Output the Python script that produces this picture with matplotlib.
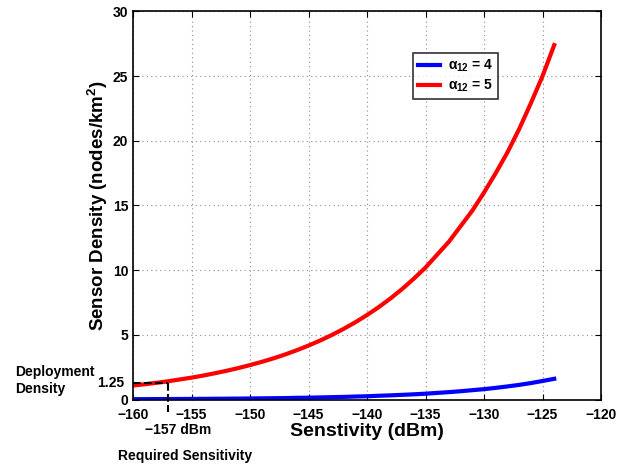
import numpy as np
import matplotlib.pyplot as plt

plt.rcParams['font.family'] = ['Liberation Sans', 'DejaVu Sans']
plt.rcParams['font.weight'] = 'bold'
plt.rcParams['mathtext.fontset'] = 'custom'
plt.rcParams['mathtext.rm'] = 'Liberation Sans:bold'
plt.rcParams['mathtext.it'] = 'Liberation Sans'
plt.rcParams['mathtext.bf'] = 'Liberation Sans:bold'

# sensitivity (dBm) and read-off densities (nodes/km^2)
sens = list(range(-160, -123))
dens_a5 = [1.08, 1.18, 1.29, 1.41, 1.55, 1.69, 1.85, 2.03, 2.22, 2.43,
           2.66, 2.91, 3.18, 3.48, 3.81, 4.17, 4.56, 4.99, 5.46, 5.97,
           6.53, 7.14, 7.81, 8.54, 9.34, 10.2, 11.2, 12.2, 13.4, 14.6,
           16.0, 17.5, 19.1, 20.9, 22.9, 25.0, 27.4]
dens_a4 = [0.025, 0.028, 0.032, 0.036, 0.04, 0.045, 0.05, 0.057, 0.064, 0.07,
           0.08, 0.09, 0.10, 0.11, 0.13, 0.14, 0.16, 0.18, 0.20, 0.23,
           0.25, 0.29, 0.32, 0.36, 0.40, 0.45, 0.51, 0.57, 0.64, 0.72,
           0.80, 0.90, 1.01, 1.13, 1.27, 1.43, 1.6]

req_sens = -157
req_dens = 1.25

W, H = 626, 468
fig = plt.figure(figsize=(W / 100, H / 100), dpi=100)
ax = fig.add_axes([133 / W, 1 - 399.5 / H, 468 / W, 388 / H])

ax.plot(sens, dens_a4, color='blue', lw=3, label=r'$\alpha_{12}$ = 4')
ax.plot(sens, dens_a5, color='red', lw=3, label=r'$\alpha_{12}$ = 5')

# required sensitivity / deployment density marker
ax.plot([-160, req_sens], [req_dens, req_dens], color='black', ls='--', lw=1.5)
ax.plot([req_sens, req_sens], [req_dens, -1.0], color='black', ls='--', lw=1.5,
        clip_on=False)

ax.set_xlim(-160, -120)
ax.set_ylim(0, 30)
ax.set_xticks(np.arange(-160, -119, 5))
ax.set_yticks(np.arange(0, 31, 5))
ax.set_xticklabels(['\u2212%d' % abs(v) for v in range(-160, -119, 5)])
ax.tick_params(direction='in', top=True, right=True, labelsize=10, length=4)
ax.tick_params(axis='x', pad=6)
for lbl in ax.get_xticklabels() + ax.get_yticklabels():
    lbl.set_fontweight('bold')
ax.grid(True, ls=(0, (1, 3)), color='0.55', lw=0.8)
for s in ax.spines.values():
    s.set_linewidth(1.2)

ax.set_xlabel('Senstivity (dBm)', fontsize=14, fontweight='bold', labelpad=1)
ax.set_ylabel('Sensor Density (nodes/km$^2$)', fontsize=13.5, fontweight='bold',
              labelpad=2)

leg = ax.legend(loc='upper left', bbox_to_anchor=((406 - 133) / 468, (399.5 - 46) / 388),
                fontsize=10, frameon=True, fancybox=False, edgecolor='black',
                handlelength=1.6, borderpad=0.35, labelspacing=0.25, handletextpad=0.6)
leg.get_frame().set_linewidth(1.2)

fig.text(124 / W, 1 - 383 / H, '1.25', ha='right', va='center', fontsize=10,
         fontweight='bold')
fig.text(15 / W, 1 - 372 / H, 'Deployment', ha='left', va='center', fontsize=10,
         fontweight='bold')
fig.text(15 / W, 1 - 389 / H, 'Density', ha='left', va='center', fontsize=10,
         fontweight='bold')
fig.text(178 / W, 1 - 430 / H, '\u2212157 dBm', ha='center', va='center',
         fontsize=10, fontweight='bold')
fig.text(185 / W, 1 - 456 / H, 'Required Sensitivity', ha='center', va='center',
         fontsize=10, fontweight='bold')

fig.savefig('out.png', dpi=100)
